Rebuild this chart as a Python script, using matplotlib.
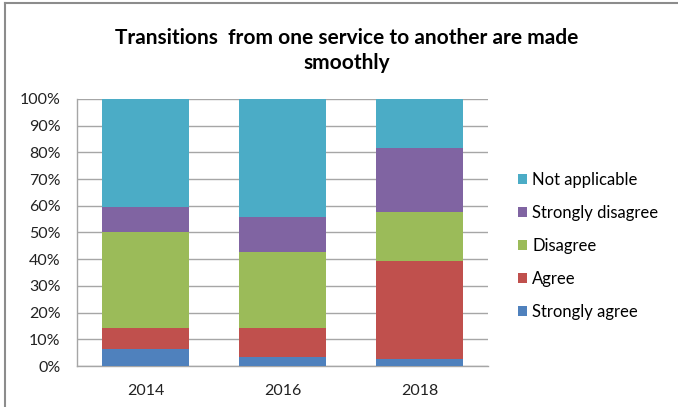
import matplotlib.pyplot as plt
from matplotlib.lines import Line2D
import numpy as np

plt.rcParams['font.family'] = ['Lato', 'DejaVu Sans']

# survey answers, share of respondents (%) per year
years = ['2014', '2016', '2018']
strongly_agree = [6.3, 3.3, 2.8]
agree = [8.1, 11.1, 36.5]
disagree = [35.6, 28.2, 18.2]
strongly_disagree = [9.6, 13.3, 24.3]
not_applicable = [40.4, 44.1, 18.2]

series = [
    ('Strongly agree', strongly_agree, '#4F81BD'),
    ('Agree', agree, '#C0504D'),
    ('Disagree', disagree, '#9BBB59'),
    ('Strongly disagree', strongly_disagree, '#8064A2'),
    ('Not applicable', not_applicable, '#4BACC6'),
]

fig = plt.figure(figsize=(6.78, 4.07), dpi=100)
ax = fig.add_axes([0.1136, 0.1007, 0.6062, 0.6561])

x = np.arange(len(years))
bottom = np.zeros(len(years))
bars = []
for name, vals, col in series:
    b = ax.bar(x, vals, 0.64, bottom=bottom, color=col, label=name, zorder=3)
    bars.append(b)
    bottom += np.array(vals)

ax.set_xlim(-0.5, 2.5)
ax.set_ylim(0, 100)
ax.set_yticks(np.arange(0, 101, 10))
ax.set_yticklabels(['{}%'.format(v) for v in range(0, 101, 10)])
ax.set_xticks(x)
ax.set_xticklabels(years)
ax.tick_params(axis='both', length=0, labelsize=11.5, colors='#222222')
ax.tick_params(axis='y', pad=12)
ax.tick_params(axis='x', pad=13)
ax.grid(axis='y', color='#A6A6A6', linewidth=1, zorder=0)
for s in ['top', 'right']:
    ax.spines[s].set_visible(False)
for s in ['left', 'bottom']:
    ax.spines[s].set_color('#A6A6A6')
    ax.spines[s].set_linewidth(1)

fig.text(0.512, 0.907, 'Transitions  from one service to another are made',
         ha='center', va='center', fontsize=15, fontweight='bold')
fig.text(0.512, 0.846, 'smoothly', ha='center', va='center',
         fontsize=15, fontweight='bold')

handles = bars[::-1]
labels = [s[0] for s in series][::-1]
fig.legend(handles, labels, loc='upper left', bbox_to_anchor=(0.752, 0.598),
           frameon=False, fontsize=12, handlelength=0.55, handleheight=0.55,
           handletextpad=0.3, labelspacing=1.02, borderpad=0)

# chart frame lines along the top and left edges
fig.add_artist(Line2D([0.007, 1.0], [0.993, 0.993], color='#8C8C8C', linewidth=1.5))
fig.add_artist(Line2D([0.007, 0.007], [0.0, 0.993], color='#8C8C8C', linewidth=1.5))

fig.savefig('out.png', dpi=100)
